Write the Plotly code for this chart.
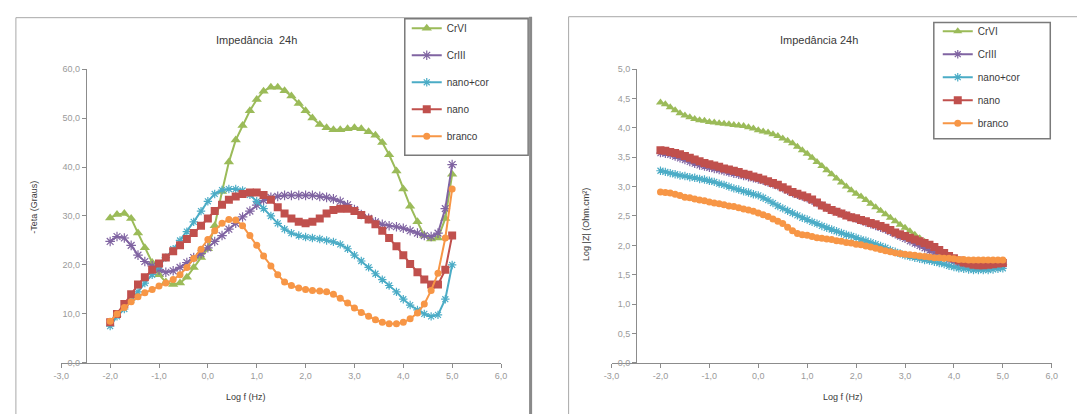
import plotly.graph_objects as go

W, H = 1077, 414

# ---------------- data: phase angle chart (left) ----------------
logf_phase = [-2.00, -1.86, -1.71, -1.57, -1.43, -1.29, -1.14, -1.00, -0.86, -0.71,
              -0.57, -0.43, -0.29, -0.14, 0.00, 0.14, 0.29, 0.43, 0.57, 0.71,
              0.86, 1.00, 1.14, 1.29, 1.43, 1.57, 1.71, 1.86, 2.00, 2.14,
              2.29, 2.43, 2.57, 2.71, 2.86, 3.00, 3.14, 3.29, 3.43, 3.57,
              3.71, 3.86, 4.00, 4.14, 4.29, 4.43, 4.57, 4.71, 4.86, 5.00]
phase_crvi = [29.6, 30.3, 30.5, 29.5, 26.5, 23.5, 20.5, 18.0, 16.5, 16.0,
              16.3, 17.5, 19.5, 21.5, 23.3, 28.0, 35.0, 41.0, 45.5, 48.5,
              51.5, 53.8, 55.5, 56.3, 56.3, 55.6, 54.5, 53.0, 51.5, 50.0,
              48.7, 48.0, 47.6, 47.6, 47.8, 48.0, 47.8, 47.2, 46.5, 45.0,
              42.5, 39.2, 35.5, 32.0, 28.8, 26.0, 25.3, 25.5, 29.5, 38.5]
phase_criii = [24.8, 25.8, 25.5, 24.0, 22.0, 20.7, 19.8, 19.0, 18.5, 18.8,
               19.5, 20.5, 21.5, 22.3, 23.5, 24.8, 26.0, 27.3, 28.5, 29.8,
               31.0, 32.2, 33.2, 33.8, 34.0, 34.2, 34.2, 34.2, 34.2, 34.2,
               34.0, 33.8, 33.5, 33.0, 32.3, 31.3, 30.3, 29.5, 28.8, 28.3,
               28.0, 27.8, 27.5, 27.0, 26.5, 26.0, 25.8, 26.5, 31.5, 40.5]
phase_nanocor = [7.5, 9.5, 11.0, 12.8, 14.5, 16.3, 18.0, 19.8, 21.5, 23.2,
                 25.0, 26.8, 28.8, 31.0, 33.0, 34.5, 35.3, 35.5, 35.5, 35.2,
                 34.3, 33.0, 31.5, 30.0, 28.5, 27.3, 26.5, 26.0, 25.7, 25.5,
                 25.3, 25.0, 24.7, 24.2, 23.3, 22.0, 20.8, 19.5, 18.2, 17.0,
                 15.8, 14.5, 13.0, 11.8, 10.8, 10.0, 9.5, 9.8, 13.0, 20.0]
phase_nano = [8.3, 10.0, 12.0, 14.0, 16.0, 17.5, 19.0, 20.3, 21.5, 22.8,
              24.0, 25.3, 26.5, 28.0, 29.5, 31.0, 32.3, 33.3, 34.0, 34.5,
              34.8, 34.8, 34.3, 33.3, 31.8, 30.5, 29.5, 28.8, 28.5, 28.8,
              29.5, 30.5, 31.2, 31.5, 31.5, 31.0, 30.2, 29.3, 28.3, 27.0,
              25.5, 23.8, 22.0, 20.2, 18.5, 17.0, 16.0, 16.0, 19.0, 26.0]
phase_branco = [8.5, 10.0, 11.3, 12.5, 13.5, 14.3, 15.0, 15.7, 16.3, 17.0,
                18.0, 19.5, 21.3, 23.2, 25.2, 27.0, 28.5, 29.3, 29.2, 28.0,
                26.0, 24.0, 21.8, 19.8, 18.0, 16.5, 15.8, 15.3, 15.0, 14.8,
                14.7, 14.5, 14.0, 13.2, 12.2, 11.2, 10.3, 9.5, 8.8, 8.3,
                8.0, 8.0, 8.3, 9.0, 10.2, 12.0, 14.8, 18.3, 25.5, 35.5]

# ---------------- data: impedance modulus chart (right) ----------------
logf_mod = [-2.0, -1.9, -1.8, -1.7, -1.6, -1.5, -1.4, -1.3, -1.2, -1.1,
            -1.0, -0.9, -0.8, -0.7, -0.6, -0.5, -0.4, -0.3, -0.2, -0.1,
            0.0, 0.1, 0.2, 0.3, 0.4, 0.5, 0.6, 0.7, 0.8, 0.9,
            1.0, 1.1, 1.2, 1.3, 1.4, 1.5, 1.6, 1.7, 1.8, 1.9,
            2.0, 2.1, 2.2, 2.3, 2.4, 2.5, 2.6, 2.7, 2.8, 2.9,
            3.0, 3.1, 3.2, 3.3, 3.4, 3.5, 3.6, 3.7, 3.8, 3.9,
            4.0, 4.1, 4.2, 4.3, 4.4, 4.5, 4.6, 4.7, 4.8, 4.9, 5.0]
mod_crvi = [4.43, 4.40, 4.35, 4.30, 4.25, 4.21, 4.18, 4.15, 4.13, 4.12,
            4.10, 4.09, 4.08, 4.07, 4.06, 4.05, 4.04, 4.03, 4.01, 3.99,
            3.96, 3.94, 3.92, 3.89, 3.86, 3.82, 3.78, 3.74, 3.68, 3.62,
            3.56, 3.49, 3.42, 3.35, 3.28, 3.21, 3.14, 3.07, 3.00, 2.94,
            2.88, 2.83, 2.77, 2.71, 2.65, 2.59, 2.53, 2.47, 2.41, 2.35,
            2.30, 2.24, 2.18, 2.12, 2.06, 2.00, 1.95, 1.90, 1.85, 1.81,
            1.78, 1.75, 1.73, 1.72, 1.71, 1.70, 1.70, 1.70, 1.70, 1.70, 1.70]
mod_criii = [3.57, 3.56, 3.54, 3.51, 3.48, 3.45, 3.42, 3.39, 3.36, 3.34,
             3.32, 3.30, 3.28, 3.26, 3.24, 3.22, 3.20, 3.18, 3.16, 3.14,
             3.12, 3.10, 3.07, 3.04, 3.01, 2.97, 2.93, 2.89, 2.86, 2.83,
             2.80, 2.76, 2.72, 2.68, 2.64, 2.60, 2.57, 2.54, 2.51, 2.48,
             2.45, 2.42, 2.39, 2.36, 2.33, 2.30, 2.27, 2.23, 2.19, 2.15,
             2.11, 2.07, 2.03, 1.99, 1.95, 1.91, 1.87, 1.83, 1.79, 1.75,
             1.72, 1.69, 1.67, 1.65, 1.64, 1.63, 1.63, 1.63, 1.64, 1.64, 1.65]
mod_nanocor = [3.27, 3.25, 3.23, 3.21, 3.19, 3.18, 3.16, 3.15, 3.13, 3.12,
               3.10, 3.08, 3.05, 3.03, 3.00, 2.97, 2.95, 2.92, 2.90, 2.87,
               2.85, 2.81, 2.77, 2.72, 2.67, 2.63, 2.59, 2.55, 2.51, 2.47,
               2.44, 2.40, 2.37, 2.33, 2.30, 2.27, 2.24, 2.21, 2.18, 2.16,
               2.13, 2.10, 2.08, 2.05, 2.02, 1.99, 1.96, 1.92, 1.89, 1.86,
               1.83, 1.81, 1.79, 1.77, 1.75, 1.74, 1.72, 1.70, 1.68, 1.65,
               1.63, 1.61, 1.60, 1.59, 1.58, 1.58, 1.58, 1.58, 1.59, 1.60, 1.61]
mod_nano = [3.62, 3.61, 3.59, 3.57, 3.55, 3.52, 3.49, 3.46, 3.43, 3.40,
            3.38, 3.36, 3.34, 3.31, 3.29, 3.27, 3.25, 3.22, 3.20, 3.17,
            3.15, 3.12, 3.09, 3.06, 3.03, 2.99, 2.95, 2.91, 2.88, 2.85,
            2.82, 2.78, 2.73, 2.68, 2.64, 2.60, 2.57, 2.54, 2.51, 2.48,
            2.46, 2.43, 2.41, 2.38, 2.36, 2.33, 2.30, 2.26, 2.22, 2.19,
            2.16, 2.13, 2.10, 2.07, 2.04, 2.01, 1.97, 1.92, 1.87, 1.82,
            1.78, 1.74, 1.71, 1.69, 1.67, 1.66, 1.66, 1.67, 1.68, 1.69, 1.70]
mod_branco = [2.91, 2.90, 2.89, 2.87, 2.85, 2.82, 2.81, 2.79, 2.77, 2.76,
              2.74, 2.72, 2.71, 2.69, 2.67, 2.66, 2.64, 2.62, 2.60, 2.58,
              2.55, 2.52, 2.49, 2.45, 2.41, 2.37, 2.31, 2.25, 2.20, 2.18,
              2.17, 2.15, 2.13, 2.12, 2.11, 2.10, 2.08, 2.07, 2.05, 2.04,
              2.02, 2.01, 1.99, 1.97, 1.95, 1.93, 1.91, 1.89, 1.87, 1.86,
              1.85, 1.84, 1.83, 1.82, 1.81, 1.80, 1.79, 1.79, 1.78, 1.78,
              1.77, 1.76, 1.76, 1.75, 1.75, 1.75, 1.75, 1.75, 1.75, 1.75, 1.75]

series_names = ["CrVI", "CrIII", "nano+cor", "nano", "branco"]

# tick labels
x_tickvals = [-3, -2, -1, 0, 1, 2, 3, 4, 5, 6]
x_ticktext = ["-3,0", "-2,0", "-1,0", "0,0", "1,0", "2,0", "3,0", "4,0", "5,0", "6,0"]
y1_tickvals = [0, 10, 20, 30, 40, 50, 60]
y1_ticktext = ["0,0", "10,0", "20,0", "30,0", "40,0", "50,0", "60,0"]
y2_tickvals = [0, 0.5, 1.0, 1.5, 2.0, 2.5, 3.0, 3.5, 4.0, 4.5, 5.0]
y2_ticktext = ["0,0", "0,5", "1,0", "1,5", "2,0", "2,5", "3,0", "3,5", "4,0", "4,5", "5,0"]

# ---------------- styles ----------------
colors = ["#9BBB59", "#8064A2", "#4BACC6", "#C0504D", "#F79646"]
FONT = "Liberation Sans"
TICK_COL = "#9a9a9a"
AX_COL = "#8c8c8c"
TXT_COL = "#3a3a3a"


def px(x):
    return x / W


def py(y):
    return 1 - y / H


left_sets = [phase_crvi, phase_criii, phase_nanocor, phase_nano, phase_branco]
right_sets = [mod_crvi, mod_criii, mod_nanocor, mod_nano, mod_branco]

left_markers = [dict(symbol="triangle-up", size=9),
                dict(symbol="asterisk-open", size=8, line=dict(width=1.2)),
                dict(symbol="asterisk-open", size=7, line=dict(width=1.2)),
                dict(symbol="square", size=8),
                dict(symbol="circle", size=7)]
right_markers = [dict(symbol="triangle-up", size=8),
                 dict(symbol="asterisk-open", size=7, line=dict(width=1.2)),
                 dict(symbol="asterisk-open", size=7, line=dict(width=1.2)),
                 dict(symbol="square", size=8),
                 dict(symbol="circle", size=7)]

fig = go.Figure()
for i, name in enumerate(series_names):
    mk = dict(left_markers[i])
    mk["color"] = colors[i]
    if "line" in mk:
        mk["line"] = dict(mk["line"], color=colors[i])
    fig.add_trace(go.Scatter(
        x=logf_phase, y=left_sets[i], name=name, mode="lines+markers",
        line=dict(color=colors[i], width=2), marker=mk,
        xaxis="x", yaxis="y", legend="legend", legendgroup="L" + name))
for i, name in enumerate(series_names):
    mk = dict(right_markers[i])
    mk["color"] = colors[i]
    if "line" in mk:
        mk["line"] = dict(mk["line"], color=colors[i])
    fig.add_trace(go.Scatter(
        x=logf_mod, y=right_sets[i], name=name, mode="lines+markers",
        line=dict(color=colors[i], width=2), marker=mk,
        xaxis="x2", yaxis="y2", legend="legend2", legendgroup="R" + name))

# axis geometry (pixels)
L_x0, L_x1 = 54.0, 499.5
R_x0, R_x1 = 611.5, 1057.5
Y_bot, Y_top = 366.7, 65.7

xcommon = dict(range=[-3, 6], tickvals=x_tickvals, ticktext=x_ticktext,
               showgrid=False, zeroline=False, showline=True, linecolor=AX_COL,
               linewidth=1, ticks="outside", ticklen=4, tickcolor=AX_COL,
               tickfont=dict(family=FONT, size=9, color=TICK_COL))
ycommon = dict(showgrid=False, zeroline=False, showline=True, linecolor=AX_COL,
               linewidth=1, ticks="outside", ticklen=4, tickcolor=AX_COL,
               tickfont=dict(family=FONT, size=9, color=TICK_COL),
               domain=[py(Y_bot), py(Y_top)], anchor="free")

fig.update_layout(
    width=W, height=H, margin=dict(l=0, r=0, t=0, b=0),
    paper_bgcolor="white", plot_bgcolor="rgba(0,0,0,0)",
    font=dict(family=FONT, color=TXT_COL),
    xaxis=dict(xcommon, domain=[px(L_x0), px(L_x1)], anchor="y"),
    yaxis=dict(ycommon, range=[0, 60], tickvals=y1_tickvals, ticktext=y1_ticktext,
               position=px(L_x0 + (L_x1 - L_x0) / 18)),
    xaxis2=dict(xcommon, domain=[px(R_x0), px(R_x1)], anchor="y2"),
    yaxis2=dict(ycommon, range=[0, 5], tickvals=y2_tickvals, ticktext=y2_ticktext,
                position=px(R_x0 + (R_x1 - R_x0) / 18)),
    legend=dict(x=px(404), y=py(9), xanchor="left", yanchor="top",
                bgcolor="rgba(0,0,0,0)", borderwidth=0, traceorder="grouped",
                tracegroupgap=8, itemwidth=30,
                font=dict(family=FONT, size=10, color=TXT_COL)),
    legend2=dict(x=px(942), y=py(12), xanchor="left", yanchor="top",
                 bgcolor="rgba(0,0,0,0)", borderwidth=0, traceorder="grouped",
                 tracegroupgap=4, itemwidth=30,
                 font=dict(family=FONT, size=10, color=TXT_COL)),
    showlegend=True,
)

shapes = [
    # panel frames
    dict(type="rect", xref="paper", yref="paper", x0=px(8), x1=px(529), y0=py(430), y1=py(13),
         line=dict(color="#a8a8a8", width=1), layer="below"),
    dict(type="line", xref="paper", yref="paper", x0=px(529.5), x1=px(529.5), y0=py(420), y1=py(12),
         line=dict(color="#8a8a8a", width=3)),
    dict(type="rect", xref="paper", yref="paper", x0=px(568), x1=px(1090), y0=py(430), y1=py(12),
         line=dict(color="#a8a8a8", width=1), layer="below"),
    # legend boxes
    dict(type="rect", xref="paper", yref="paper", x0=px(402), x1=px(527), y0=py(154), y1=py(14),
         line=dict(color="#7a7a7a", width=1.5), fillcolor="white", layer="below"),
    dict(type="rect", xref="paper", yref="paper", x0=px(938), x1=px(1056), y0=py(137), y1=py(18),
         line=dict(color="#7a7a7a", width=1.5), fillcolor="white", layer="below"),
]
fig.update_layout(shapes=shapes)

ann = [
    dict(text="Impedância  24h", x=px(252), y=py(36), size=11),
    dict(text="Impedância 24h", x=px(822), y=py(36), size=11),
    dict(text="Log f (Hz)", x=px(241), y=py(402), size=9),
    dict(text="Log f (Hz)", x=px(846), y=py(402), size=9),
]
annotations = [dict(text=a["text"], x=a["x"], y=a["y"], xref="paper", yref="paper",
                    xanchor="center", yanchor="middle", showarrow=False,
                    font=dict(family=FONT, size=a["size"], color=TXT_COL)) for a in ann]
annotations.append(dict(text="-Teta (Graus)", x=px(26), y=py(207), xref="paper", yref="paper",
                        textangle=-90, showarrow=False, xanchor="center", yanchor="middle",
                        font=dict(family=FONT, size=9, color=TXT_COL)))
annotations.append(dict(text="Log |Z| (Ohm.cm²)", x=px(585), y=py(225), xref="paper", yref="paper",
                        textangle=-90, showarrow=False, xanchor="center", yanchor="middle",
                        font=dict(family=FONT, size=9, color=TXT_COL)))
fig.update_layout(annotations=annotations)

fig.write_html("out.html", config={"displayModeBar": False},
               post_script="document.body.style.margin='0';document.body.style.overflow='hidden';")
